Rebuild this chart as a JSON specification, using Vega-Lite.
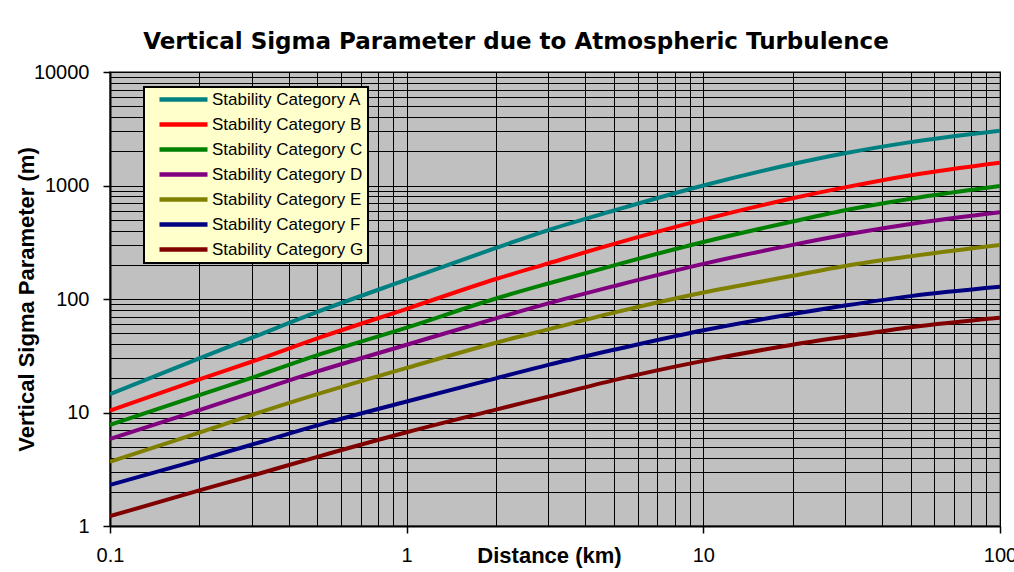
{
  "$schema": "https://vega.github.io/schema/vega-lite/v6.json",
  "width": 890,
  "height": 454,
  "autosize": {"type": "none"},
  "padding": {"left": 110, "top": 72, "right": 14, "bottom": 46},
  "background": "#FFFFFF",
  "title": {
    "text": "Vertical Sigma Parameter due to Atmospheric Turbulence",
    "font": "DejaVu Sans",
    "fontSize": 23,
    "fontWeight": "bold",
    "anchor": "middle",
    "dx": -39,
    "dy": 34,
    "offset": 24,
    "baseline": "alphabetic",
    "color": "#000000"
  },
  "config": {
    "view": {"fill": "#C0C0C0", "stroke": "#808080", "strokeWidth": 2},
    "font": "Liberation Sans"
  },
  "data": {
    "values": [
      {"category": "Stability Category A", "distance": 0.1, "sigma": 14.5},
      {"category": "Stability Category A", "distance": 0.2, "sigma": 30},
      {"category": "Stability Category A", "distance": 0.3, "sigma": 45.5},
      {"category": "Stability Category A", "distance": 0.5, "sigma": 77},
      {"category": "Stability Category A", "distance": 1, "sigma": 148},
      {"category": "Stability Category A", "distance": 2, "sigma": 282},
      {"category": "Stability Category A", "distance": 3, "sigma": 405},
      {"category": "Stability Category A", "distance": 5, "sigma": 602},
      {"category": "Stability Category A", "distance": 10, "sigma": 1000},
      {"category": "Stability Category A", "distance": 20, "sigma": 1545},
      {"category": "Stability Category A", "distance": 30, "sigma": 1922},
      {"category": "Stability Category A", "distance": 50, "sigma": 2410},
      {"category": "Stability Category A", "distance": 100, "sigma": 3040},
      {"category": "Stability Category B", "distance": 0.1, "sigma": 10.4},
      {"category": "Stability Category B", "distance": 0.2, "sigma": 19.6},
      {"category": "Stability Category B", "distance": 0.3, "sigma": 28},
      {"category": "Stability Category B", "distance": 0.5, "sigma": 45},
      {"category": "Stability Category B", "distance": 1, "sigma": 82},
      {"category": "Stability Category B", "distance": 2, "sigma": 150},
      {"category": "Stability Category B", "distance": 3, "sigma": 206},
      {"category": "Stability Category B", "distance": 5, "sigma": 306},
      {"category": "Stability Category B", "distance": 10, "sigma": 500},
      {"category": "Stability Category B", "distance": 20, "sigma": 772},
      {"category": "Stability Category B", "distance": 30, "sigma": 962},
      {"category": "Stability Category B", "distance": 50, "sigma": 1232},
      {"category": "Stability Category B", "distance": 100, "sigma": 1590},
      {"category": "Stability Category C", "distance": 0.1, "sigma": 7.77},
      {"category": "Stability Category C", "distance": 0.2, "sigma": 14.2},
      {"category": "Stability Category C", "distance": 0.3, "sigma": 20.2},
      {"category": "Stability Category C", "distance": 0.5, "sigma": 32},
      {"category": "Stability Category C", "distance": 1, "sigma": 56},
      {"category": "Stability Category C", "distance": 2, "sigma": 101},
      {"category": "Stability Category C", "distance": 3, "sigma": 137},
      {"category": "Stability Category C", "distance": 5, "sigma": 198},
      {"category": "Stability Category C", "distance": 10, "sigma": 318},
      {"category": "Stability Category C", "distance": 20, "sigma": 482},
      {"category": "Stability Category C", "distance": 30, "sigma": 605},
      {"category": "Stability Category C", "distance": 50, "sigma": 765},
      {"category": "Stability Category C", "distance": 100, "sigma": 990},
      {"category": "Stability Category D", "distance": 0.1, "sigma": 5.84},
      {"category": "Stability Category D", "distance": 0.2, "sigma": 10.5},
      {"category": "Stability Category D", "distance": 0.3, "sigma": 14.9},
      {"category": "Stability Category D", "distance": 0.5, "sigma": 23},
      {"category": "Stability Category D", "distance": 1, "sigma": 39.5},
      {"category": "Stability Category D", "distance": 2, "sigma": 67.6},
      {"category": "Stability Category D", "distance": 3, "sigma": 91.5},
      {"category": "Stability Category D", "distance": 5, "sigma": 130},
      {"category": "Stability Category D", "distance": 10, "sigma": 204},
      {"category": "Stability Category D", "distance": 20, "sigma": 300},
      {"category": "Stability Category D", "distance": 30, "sigma": 368},
      {"category": "Stability Category D", "distance": 50, "sigma": 458},
      {"category": "Stability Category D", "distance": 100, "sigma": 581},
      {"category": "Stability Category E", "distance": 0.1, "sigma": 3.69},
      {"category": "Stability Category E", "distance": 0.2, "sigma": 6.65},
      {"category": "Stability Category E", "distance": 0.3, "sigma": 9.5},
      {"category": "Stability Category E", "distance": 0.5, "sigma": 14.5},
      {"category": "Stability Category E", "distance": 1, "sigma": 24.7},
      {"category": "Stability Category E", "distance": 2, "sigma": 41.2},
      {"category": "Stability Category E", "distance": 3, "sigma": 54},
      {"category": "Stability Category E", "distance": 5, "sigma": 75.8},
      {"category": "Stability Category E", "distance": 10, "sigma": 114},
      {"category": "Stability Category E", "distance": 20, "sigma": 160},
      {"category": "Stability Category E", "distance": 30, "sigma": 195},
      {"category": "Stability Category E", "distance": 50, "sigma": 238},
      {"category": "Stability Category E", "distance": 100, "sigma": 299},
      {"category": "Stability Category F", "distance": 0.1, "sigma": 2.3},
      {"category": "Stability Category F", "distance": 0.2, "sigma": 3.83},
      {"category": "Stability Category F", "distance": 0.3, "sigma": 5.2},
      {"category": "Stability Category F", "distance": 0.5, "sigma": 7.7},
      {"category": "Stability Category F", "distance": 1, "sigma": 12.5},
      {"category": "Stability Category F", "distance": 2, "sigma": 20},
      {"category": "Stability Category F", "distance": 3, "sigma": 26.3},
      {"category": "Stability Category F", "distance": 5, "sigma": 35.7},
      {"category": "Stability Category F", "distance": 10, "sigma": 53},
      {"category": "Stability Category F", "distance": 20, "sigma": 73.8},
      {"category": "Stability Category F", "distance": 30, "sigma": 87.5},
      {"category": "Stability Category F", "distance": 50, "sigma": 106},
      {"category": "Stability Category F", "distance": 100, "sigma": 128},
      {"category": "Stability Category G", "distance": 0.1, "sigma": 1.22},
      {"category": "Stability Category G", "distance": 0.2, "sigma": 2.06},
      {"category": "Stability Category G", "distance": 0.3, "sigma": 2.77},
      {"category": "Stability Category G", "distance": 0.5, "sigma": 4.07},
      {"category": "Stability Category G", "distance": 1, "sigma": 6.7},
      {"category": "Stability Category G", "distance": 2, "sigma": 10.6},
      {"category": "Stability Category G", "distance": 3, "sigma": 13.8},
      {"category": "Stability Category G", "distance": 5, "sigma": 19.3},
      {"category": "Stability Category G", "distance": 10, "sigma": 28.5},
      {"category": "Stability Category G", "distance": 20, "sigma": 39.5},
      {"category": "Stability Category G", "distance": 30, "sigma": 46.5},
      {"category": "Stability Category G", "distance": 50, "sigma": 56.5},
      {"category": "Stability Category G", "distance": 100, "sigma": 68.4}
    ]
  },
  "mark": {"type": "line", "strokeWidth": 4, "interpolate": "monotone", "clip": true},
  "encoding": {
    "x": {
      "field": "distance",
      "type": "quantitative",
      "scale": {"type": "log", "domain": [0.1, 100], "nice": false},
      "axis": {
        "values": [0.1, 0.2, 0.3, 0.4, 0.5, 0.6, 0.7, 0.8, 0.9, 1, 2, 3, 4, 5, 6, 7, 8, 9, 10, 20, 30, 40, 50, 60, 70, 80, 90, 100],
        "grid": true,
        "gridColor": "#000000",
        "gridWidth": 1,
        "gridOpacity": 1,
        "tickColor": "#000000",
        "tickSize": 7,
        "tickWidth": 1.5,
        "tickOpacity": {"condition": {"test": "abs(log(datum.value)/LN10 - round(log(datum.value)/LN10)) < 0.001", "value": 1}, "value": 0},
        "labelExpr": "abs(log(datum.value)/LN10 - round(log(datum.value)/LN10)) < 0.001 ? format(datum.value, '') : ''",
        "labelOverlap": false,
        "labelFlush": false,
        "labelBound": false,
        "labelFont": "Liberation Sans",
        "labelFontSize": 20,
        "labelColor": "#000000",
        "labelPadding": 12,
        "domainColor": "#000000",
        "domainWidth": 2,
        "title": "Distance (km)",
        "titleFont": "Liberation Sans",
        "titleFontSize": 22,
        "titleFontWeight": "bold",
        "titleColor": "#000000",
        "titleAlign": "center",
        "titleBaseline": "alphabetic",
        "titleX": 439,
        "titleY": 36
      }
    },
    "y": {
      "field": "sigma",
      "type": "quantitative",
      "scale": {"type": "log", "domain": [1, 10000], "nice": false},
      "axis": {
        "values": [1, 2, 3, 4, 5, 6, 7, 8, 9, 10, 20, 30, 40, 50, 60, 70, 80, 90, 100, 200, 300, 400, 500, 600, 700, 800, 900, 1000, 2000, 3000, 4000, 5000, 6000, 7000, 8000, 9000, 10000],
        "grid": true,
        "gridColor": "#000000",
        "gridWidth": 1,
        "gridOpacity": 1,
        "tickColor": "#000000",
        "tickSize": 7,
        "tickWidth": 1.5,
        "tickOpacity": {"condition": {"test": "abs(log(datum.value)/LN10 - round(log(datum.value)/LN10)) < 0.001", "value": 1}, "value": 0},
        "labelExpr": "abs(log(datum.value)/LN10 - round(log(datum.value)/LN10)) < 0.001 ? format(datum.value, '') : ''",
        "labelOverlap": false,
        "labelFlush": false,
        "labelBound": false,
        "labelFont": "Liberation Sans",
        "labelFontSize": 20,
        "labelColor": "#000000",
        "labelPadding": 14,
        "domainColor": "#000000",
        "domainWidth": 2,
        "title": "Vertical Sigma Parameter (m)",
        "titleFont": "Liberation Sans",
        "titleFontSize": 22,
        "titleFontWeight": "bold",
        "titleColor": "#000000",
        "titleAngle": -90,
        "titleAlign": "center",
        "titleBaseline": "alphabetic",
        "titleX": -77,
        "titleY": 227
      }
    },
    "color": {
      "field": "category",
      "type": "nominal",
      "scale": {
        "domain": ["Stability Category A", "Stability Category B", "Stability Category C", "Stability Category D", "Stability Category E", "Stability Category F", "Stability Category G"],
        "range": ["#008080", "#FF0000", "#008000", "#800080", "#808000", "#000080", "#800000"]
      },
      "legend": {
        "title": null,
        "orient": "none",
        "legendX": 34,
        "legendY": 15,
        "fillColor": "#FFFFCC",
        "strokeColor": "#000000",
        "padding": 4,
        "symbolType": "M0.6,0H10.2",
        "symbolSize": 100,
        "symbolStrokeWidth": 4.5,
        "labelFont": "Liberation Sans",
        "labelFontSize": 17,
        "labelColor": "#000000",
        "labelOffset": 47,
        "labelLimit": 300,
        "labelExpr": "datum.label + '    '",
        "rowPadding": 6,
        "encode": {"legend": {"update": {"strokeWidth": {"value": 2}}}}
      }
    }
  }
}
